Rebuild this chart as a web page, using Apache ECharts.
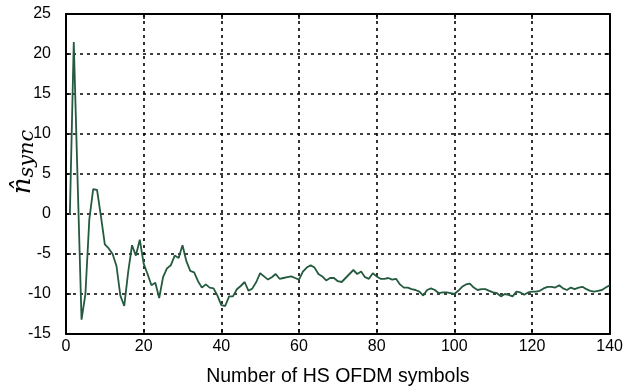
<!DOCTYPE html>
<html>
<head>
<meta charset="utf-8">
<script src="https://cdn.jsdelivr.net/npm/echarts@6/dist/echarts.min.js"></script>
<style>
  html, body { margin: 0; padding: 0; background: #fff; }
  #chart { width: 626px; height: 392px; }
</style>
</head>
<body>
<div id="chart"></div>
<script>
// Symbol index (1..140) and the estimated sync offset for each symbol
const symbols = Array.from({ length: 140 }, (_, i) => i + 1);
const nSync = [
  0, 21.5, 4, -13.2, -10, -0.7, 3.1, 3.0, -0.3, -3.8,
  -4.3, -5.0, -6.5, -10.2, -11.5, -7.3, -3.9, -5.2, -3.2, -6.2,
  -7.5, -8.9, -8.6, -10.5, -7.9, -6.8, -6.4, -5.2, -5.5, -3.9,
  -5.9, -7.1, -7.3, -8.4, -9.2, -8.8, -9.2, -9.3, -10.2, -11.4,
  -11.5, -10.3, -10.3, -9.4, -9.0, -8.5, -9.6, -9.3, -8.5, -7.4,
  -7.8, -8.2, -7.9, -7.5, -8.1, -8.0, -7.9, -7.8, -8.0, -8.2,
  -7.2, -6.7, -6.4, -6.7, -7.5, -7.8, -8.3, -8.0, -8.0, -8.4,
  -8.5, -8.0, -7.5, -7.0, -7.5, -7.2, -7.9, -8.1, -7.4, -7.8,
  -8.1, -8.1, -8.0, -8.2, -8.1, -8.8, -9.2, -9.2, -9.4, -9.5,
  -9.7, -10.2, -9.5, -9.3, -9.5, -9.9, -9.8, -9.8, -9.9, -10.0,
  -9.6, -9.1, -8.8, -8.7, -9.2, -9.5, -9.4, -9.4, -9.6, -9.8,
  -9.9, -10.3, -10.0, -10.1, -10.3, -9.7, -9.8, -10.1, -9.8, -9.7,
  -9.7, -9.6, -9.3, -9.1, -9.1, -9.2, -8.9, -9.3, -9.5, -9.2,
  -9.4, -9.2, -9.1, -9.4, -9.6, -9.7, -9.6, -9.5, -9.2, -8.9
];
const xTicks = [0, 20, 40, 60, 80, 100, 120, 140];
const yTicks = [-15, -10, -5, 0, 5, 10, 15, 20, 25];

const font = 'Liberation Sans, Arial, Helvetica, sans-serif';
const gridLine = { show: true, lineStyle: { color: '#000', width: 1.6, type: [3, 4] } };
const boxLine = { show: true, onZero: false, lineStyle: { color: '#000', width: 2 } };
const innerTick = { show: true, inside: true, length: 5, lineStyle: { color: '#000', width: 1.5 } };

const chart = echarts.init(document.getElementById('chart'), null, { renderer: 'canvas' });
chart.setOption({
  animation: false,
  backgroundColor: '#fff',
  grid: { left: 66, right: 14, top: 14, bottom: 53, containLabel: false },
  xAxis: [
    {
      type: 'value', min: xTicks[0], max: xTicks[xTicks.length - 1], interval: 20,
      axisLine: boxLine, axisTick: innerTick, splitLine: gridLine,
      axisLabel: { color: '#000', fontFamily: font, fontSize: 16, margin: 5 },
      name: 'Number of HS OFDM symbols', nameLocation: 'middle', nameGap: 33,
      nameTextStyle: { color: '#000', fontFamily: font, fontSize: 19.5 }
    },
    {
      type: 'value', position: 'top', min: xTicks[0], max: xTicks[xTicks.length - 1], interval: 20,
      axisLine: boxLine, axisTick: innerTick, splitLine: { show: false }, axisLabel: { show: false }
    }
  ],
  yAxis: [
    {
      type: 'value', min: yTicks[0], max: yTicks[yTicks.length - 1], interval: 5,
      axisLine: boxLine, axisTick: innerTick, splitLine: gridLine,
      axisLabel: { color: '#000', fontFamily: font, fontSize: 16, margin: 15 }
    },
    {
      type: 'value', position: 'right', min: yTicks[0], max: yTicks[yTicks.length - 1], interval: 5,
      axisLine: boxLine, axisTick: innerTick, splitLine: { show: false }, axisLabel: { show: false }
    }
  ],
  graphic: [{
    type: 'text',
    x: 24, y: 162,
    rotation: Math.PI / 2,
    style: {
      text: '{n|n\u0302}{s|sync}',
      align: 'center',
      verticalAlign: 'middle',
      rich: {
        n: { fontFamily: 'DejaVu Serif', fontStyle: 'italic', fontSize: 26, fill: '#000', lineHeight: 28, verticalAlign: 'top' },
        s: { fontFamily: 'DejaVu Serif', fontStyle: 'italic', fontSize: 21, fill: '#000', lineHeight: 28, verticalAlign: 'bottom', padding: [4, 0, 0, 0] }
      }
    }
  }],
  series: [{
    type: 'line',
    data: symbols.map((s, i) => [s, nSync[i]]),
    showSymbol: false,
    lineStyle: { color: '#245a3e', width: 1.8 },
    z: 5
  }]
});
</script>
</body>
</html>
